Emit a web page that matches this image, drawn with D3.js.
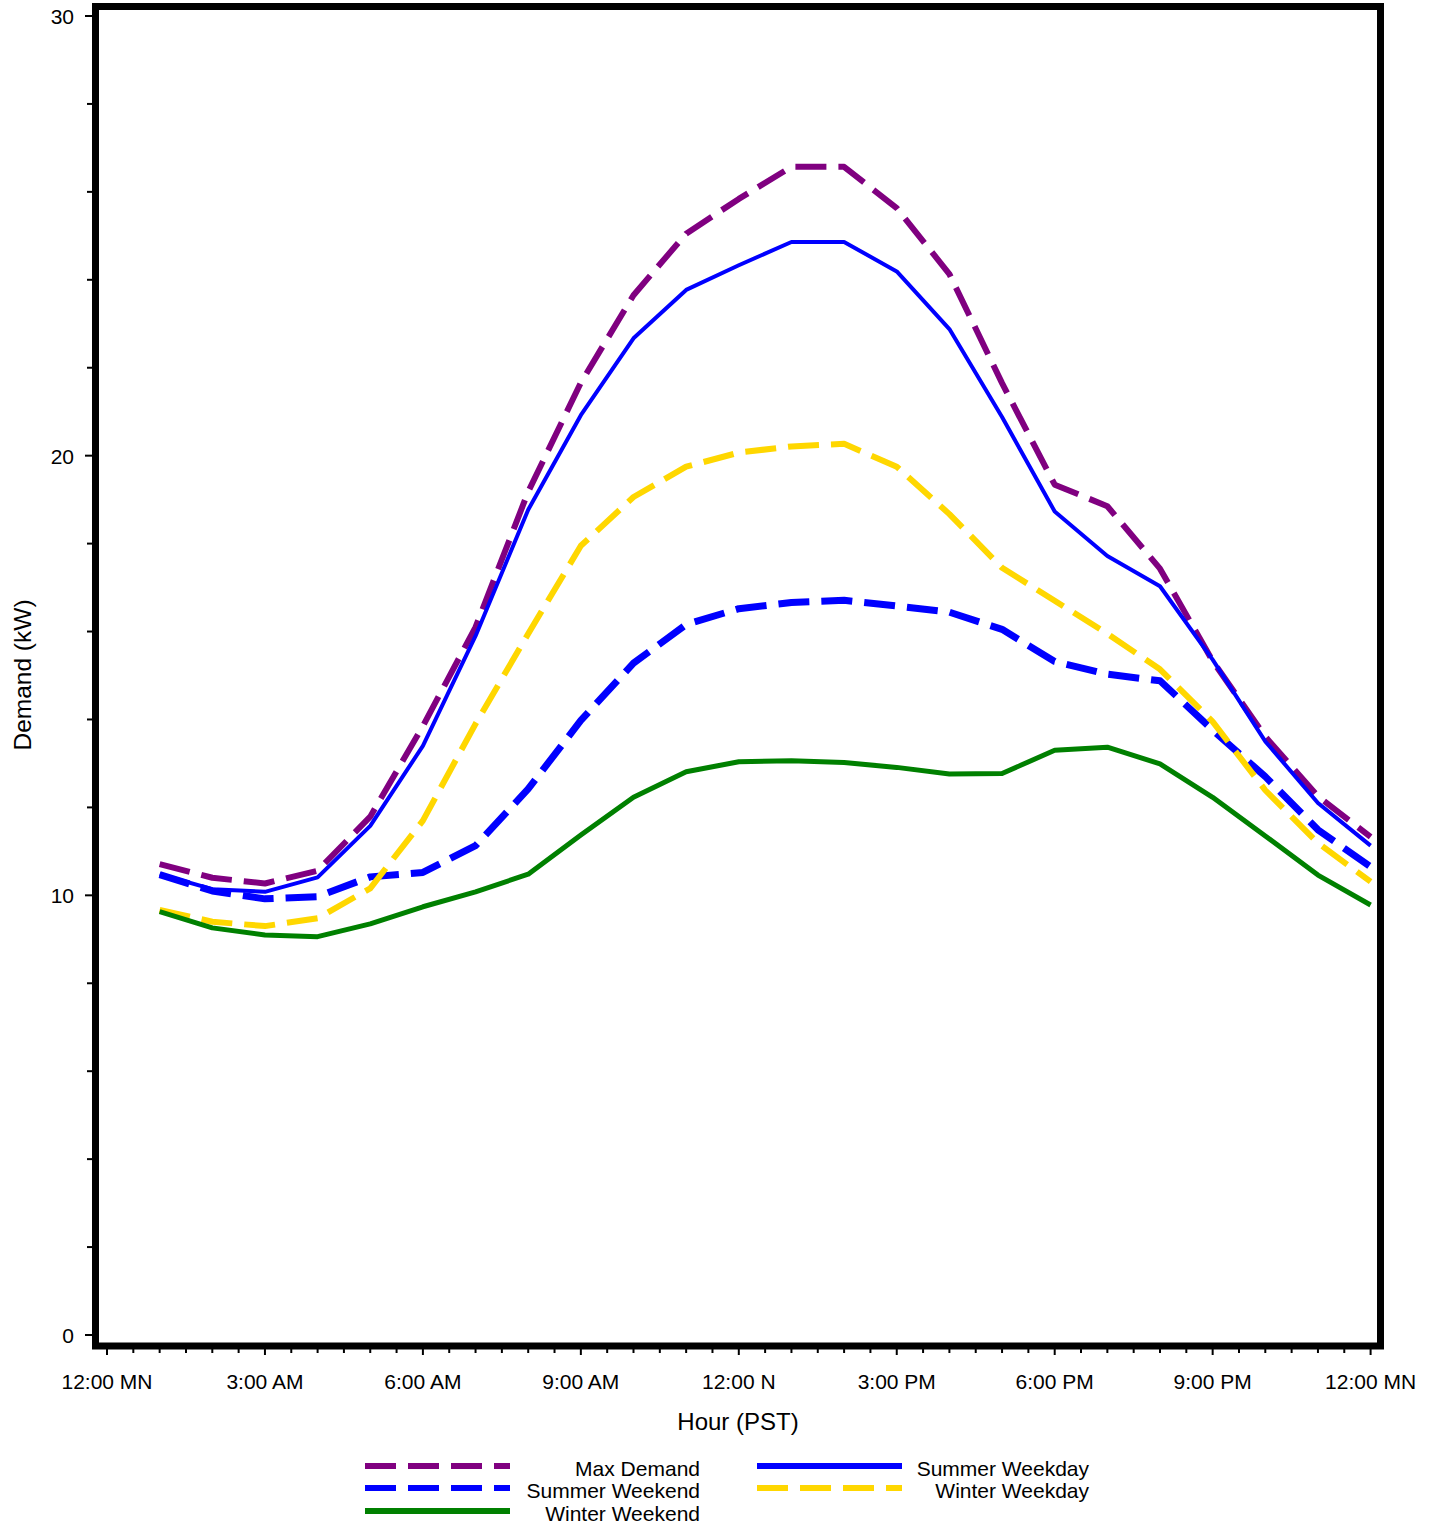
<!DOCTYPE html>
<html>
<head>
<meta charset="utf-8">
<script src="https://cdn.jsdelivr.net/npm/d3@7"></script>
<style>
  html, body { margin: 0; padding: 0; background: #fff; }
  svg { display: block; font-family: "Liberation Sans", Arial, sans-serif; }
</style>
</head>
<body>
<svg id="chart" width="1439" height="1530"></svg>
<script>
// ---- data ----
const hours = [1,2,3,4,5,6,7,8,9,10,11,12,13,14,15,16,17,18,19,20,21,22,23,24];
const maxDemand     = [10.71,10.40,10.27,10.56,11.79,13.85,16.10,19.18,21.66,23.65,25.05,25.84,26.57,26.57,25.63,24.13,21.65,19.34,18.85,17.43,15.33,13.61,12.25,11.33];
const summerWeekday = [10.48,10.14,10.08,10.41,11.58,13.40,15.90,18.77,20.92,22.67,23.77,24.33,24.86,24.86,24.19,22.88,20.88,18.73,17.72,17.03,15.36,13.50,12.10,11.13];
const summerWeekend = [10.47,10.10,9.92,9.97,10.42,10.52,11.13,12.42,13.98,15.28,16.16,16.52,16.66,16.71,16.58,16.44,16.05,15.32,15.03,14.88,13.76,12.70,11.49,10.65];
const winterWeekday = [9.67,9.40,9.30,9.48,10.16,11.70,13.90,15.95,17.95,19.06,19.75,20.07,20.21,20.27,19.75,18.67,17.45,16.70,15.95,15.14,13.95,12.39,11.19,10.31];
const winterWeekend = [9.63,9.26,9.10,9.06,9.35,9.74,10.08,10.48,11.37,12.23,12.81,13.04,13.06,13.02,12.91,12.76,12.77,13.30,13.37,12.99,12.23,11.35,10.46,9.78];

const xTickValues = [0,3,6,9,12,15,18,21,24];
const xTickLabels = ["12:00 MN","3:00 AM","6:00 AM","9:00 AM","12:00 N","3:00 PM","6:00 PM","9:00 PM","12:00 MN"];
const yTickValues = [0,10,20,30];
const yMinorValues = [2,4,6,8,12,14,16,18,22,24,26,28];
const xMinorValues = d3.range(0, 24.01, 0.5).filter(v => v % 3 !== 0);

const seriesNames = ["Max Demand","Summer Weekday","Summer Weekend","Winter Weekday","Winter Weekend"];
const seriesValues = [maxDemand, summerWeekday, summerWeekend, winterWeekday, winterWeekend];

// ---- styles ----
const styles = {
  "Max Demand":     {color:"#800080", width:6, dash:"31,12"},
  "Summer Weekday": {color:"#0000ff", width:4, dash:null},
  "Summer Weekend": {color:"#0000ff", width:7, dash:"31,12"},
  "Winter Weekday": {color:"#ffd700", width:6, dash:"31,12"},
  "Winter Weekend": {color:"#008000", width:5, dash:null}
};

const svg = d3.select("#chart");
const x = d3.scaleLinear().domain([0,24]).range([107, 1370.6]);
const y = d3.scaleLinear().domain([0,30]).range([1335, 16]);

const frame = {left:95.5, right:1380.5, top:6.5, bottom:1346};

// lines
const line = d3.line().x((d,i)=>x(hours[i])).y(d=>y(d)).curve(d3.curveLinear);
const drawOrder = ["Max Demand","Summer Weekday","Summer Weekend","Winter Weekday","Winter Weekend"];
drawOrder.forEach(name => {
  const s = styles[name];
  const vals = seriesValues[seriesNames.indexOf(name)];
  svg.append("path")
    .attr("d", line(vals))
    .attr("fill","none")
    .attr("stroke", s.color)
    .attr("stroke-width", s.width)
    .attr("stroke-dasharray", s.dash)
    .attr("stroke-linejoin","round")
    .attr("stroke-linecap","butt");
});

// frame
svg.append("rect")
  .attr("x", frame.left).attr("y", frame.top)
  .attr("width", frame.right-frame.left).attr("height", frame.bottom-frame.top)
  .attr("fill","none").attr("stroke","#000").attr("stroke-width",7);

// y axis ticks
const yAxisG = svg.append("g");
yTickValues.forEach(v => {
  yAxisG.append("line").attr("x1",85).attr("x2",93).attr("y1",y(v)).attr("y2",y(v))
    .attr("stroke","#000").attr("stroke-width",2);
  yAxisG.append("text").attr("x",74).attr("y",y(v)+8).attr("text-anchor","end")
    .attr("font-size",21).attr("fill","#000").text(v);
});
yMinorValues.forEach(v => {
  yAxisG.append("line").attr("x1",87).attr("x2",93).attr("y1",y(v)).attr("y2",y(v))
    .attr("stroke","#000").attr("stroke-width",2);
});

// x axis ticks
const xAxisG = svg.append("g");
xTickValues.forEach((v,i) => {
  xAxisG.append("line").attr("x1",x(v)).attr("x2",x(v)).attr("y1",1349).attr("y2",1355)
    .attr("stroke","#000").attr("stroke-width",2);
  xAxisG.append("text").attr("x",x(v)).attr("y",1389).attr("text-anchor","middle")
    .attr("font-size",21).attr("fill","#000").text(xTickLabels[i]);
});
xMinorValues.forEach(v => {
  xAxisG.append("line").attr("x1",x(v)).attr("x2",x(v)).attr("y1",1349).attr("y2",1353)
    .attr("stroke","#000").attr("stroke-width",2);
});

// axis titles
svg.append("text").attr("x",738).attr("y",1430).attr("text-anchor","middle")
  .attr("font-size",24).attr("fill","#000").text("Hour (PST)");
svg.append("text").attr("transform","translate(31,675) rotate(-90)").attr("text-anchor","middle")
  .attr("font-size",24.5).attr("fill","#000").text("Demand (kW)");

// legend
const legendItems = [
  {name:"Max Demand",     lx:365, tx:700, ly:1466},
  {name:"Summer Weekday", lx:757, tx:1089, ly:1466},
  {name:"Summer Weekend", lx:365, tx:700, ly:1488},
  {name:"Winter Weekday", lx:757, tx:1089, ly:1488},
  {name:"Winter Weekend", lx:365, tx:700, ly:1511}
];
const lg = svg.append("g");
legendItems.forEach(it => {
  const s = styles[it.name];
  lg.append("line").attr("x1",it.lx).attr("x2",it.lx+145).attr("y1",it.ly).attr("y2",it.ly)
    .attr("stroke",s.color).attr("stroke-width",6).attr("stroke-dasharray", s.dash);
  lg.append("text").attr("x",it.tx).attr("y",it.ly+10).attr("text-anchor","end")
    .attr("font-size",21).attr("fill","#000").text(it.name);
});
</script>
</body>
</html>
